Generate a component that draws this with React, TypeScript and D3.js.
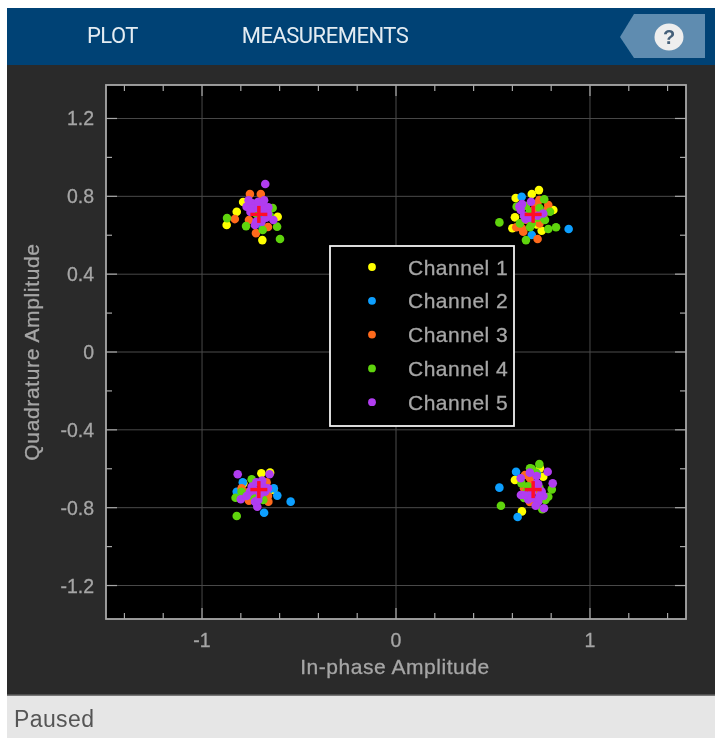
import React from "react";
import * as d3 from "d3";

type P = [number, number];

const channel1: P[] = [
  [-0.788, 0.771], [-0.821, 0.721], [-0.873, 0.653], [-0.61, 0.695], [-0.689, 0.575], [-0.7, 0.7],
  [0.737, 0.832], [0.7, 0.812], [0.617, 0.791], [0.811, 0.73], [0.613, 0.692], [0.6, 0.636], [0.751, 0.623], [0.725, 0.656],
  [-0.694, -0.623], [-0.649, -0.62], [-0.632, -0.709], [-0.787, -0.675],
  [0.649, -0.819], [0.613, -0.658], [0.759, -0.641], [0.742, -0.598],
];
const channel2: P[] = [
  [-0.687, 0.64], [-0.74, 0.74], [-0.7, 0.68],
  [0.648, 0.798], [0.89, 0.632], [0.7, 0.601],
  [-0.79, -0.67], [-0.612, -0.738], [-0.543, -0.769], [-0.68, -0.826], [-0.821, -0.718], [-0.658, -0.71], [-0.8, -0.74], [-0.63, -0.7], [-0.73, -0.67],
  [0.619, -0.615], [0.533, -0.697], [0.627, -0.848], [0.725, -0.624],
];
const channel3: P[] = [
  [-0.753, 0.812], [-0.697, 0.812], [-0.831, 0.683], [-0.722, 0.611], [-0.66, 0.642], [-0.758, 0.678],
  [0.73, 0.581], [0.656, 0.618], [0.62, 0.641], [0.785, 0.755], [0.739, 0.781], [0.65, 0.635], [0.76, 0.704], [0.78, 0.73], [0.72, 0.76], [0.67, 0.68], [0.74, 0.66], [0.71, 0.73],
  [-0.667, -0.67], [-0.758, -0.764], [-0.658, -0.769], [-0.796, -0.7], [-0.66, -0.74], [-0.76, -0.72], [-0.72, -0.75],
  [0.691, -0.649], [0.69, -0.77], [0.665, -0.632], [0.7, -0.68], [0.66, -0.7], [0.72, -0.71],
];
const channel4: P[] = [
  [-0.871, 0.688], [-0.636, 0.74], [-0.773, 0.647], [-0.613, 0.644], [-0.598, 0.581], [-0.687, 0.627], [-0.65, 0.7], [-0.72, 0.71],
  [0.533, 0.666], [0.764, 0.785], [0.825, 0.641], [0.785, 0.632], [0.67, 0.575], [0.691, 0.641], [0.639, 0.661], [0.794, 0.721], [0.768, 0.678], [0.622, 0.747], [0.66, 0.7], [0.74, 0.74], [0.7, 0.66], [0.69, 0.72], [0.73, 0.69], [0.67, 0.75],
  [-0.821, -0.843], [-0.744, -0.654], [-0.827, -0.749], [-0.796, -0.718], [-0.684, -0.76], [-0.74, -0.74],
  [0.541, -0.79], [0.739, -0.576], [0.691, -0.598], [0.803, -0.706], [0.785, -0.744], [0.754, -0.808], [0.647, -0.675], [0.674, -0.717], [0.7, -0.6], [0.72, -0.62], [0.77, -0.76], [0.66, -0.75], [0.74, -0.7], [0.68, -0.69],
];
const channel5: P[] = [
  [-0.674, 0.863], [-0.77, 0.747], [-0.74, 0.764], [-0.71, 0.772], [-0.684, 0.755], [-0.658, 0.743], [-0.632, 0.678], [-0.727, 0.653], [-0.693, 0.67], [-0.735, 0.738], [-0.684, 0.73], [-0.75, 0.72], [-0.66, 0.71], [-0.72, 0.67], [-0.68, 0.78], [-0.76, 0.78], [-0.71, 0.74], [-0.67, 0.69],
  [0.636, 0.747], [0.696, 0.772], [0.759, 0.712], [0.668, 0.683], [0.643, 0.73], [0.65, 0.76], [0.66, 0.7], [0.73, 0.7], [0.69, 0.69],
  [-0.816, -0.628], [-0.652, -0.628], [-0.8, -0.757], [-0.715, -0.795], [-0.727, -0.769], [-0.744, -0.692], [-0.684, -0.692], [-0.753, -0.718], [-0.675, -0.718], [-0.71, -0.76], [-0.72, -0.67], [-0.66, -0.7], [-0.77, -0.74], [-0.7, -0.73], [-0.73, -0.71], [-0.69, -0.66],
  [0.782, -0.615], [0.808, -0.675], [0.643, -0.649], [0.725, -0.637], [0.644, -0.735], [0.763, -0.803], [0.733, -0.769], [0.682, -0.758], [0.751, -0.717], [0.725, -0.675], [0.664, -0.735], [0.733, -0.68], [0.7, -0.72], [0.76, -0.74], [0.72, -0.79], [0.69, -0.62], [0.7, -0.75], [0.74, -0.74],
];
const channelNames = ["Channel 1", "Channel 2", "Channel 3", "Channel 4", "Channel 5"];
const channelColors = ["#ffff00", "#0a9fff", "#ff6a1a", "#5fd40a", "#b13cf0"];
const referencePoints: P[] = [[-0.707, 0.707], [0.707, 0.707], [-0.707, -0.707], [0.707, -0.707]];
const xMajor = [-1, 0, 1];
const yMajor = [-1.2, -0.8, -0.4, 0, 0.4, 0.8, 1.2];
const xMinor = [-1.4, -1.2, -0.8, -0.6, -0.4, -0.2, 0.2, 0.4, 0.6, 0.8, 1.2, 1.4];
const yMinor = [-1, -0.6, -0.2, 0.2, 0.6, 1];

const L = 106, R = 686, T = 85, B = 619;
const FONT = "Liberation Sans, Arial, sans-serif";

export default function App() {
  const x = d3.scaleLinear().domain([-1.495, 1.495]).range([L, R]);
  const y = d3.scaleLinear().domain([-1.372, 1.372]).range([B, T]);
  const series = [channel1, channel2, channel3, channel4, channel5];
  const axisColor = "#a8a8a8";
  const textColor = "#a6a6a6";
  const fmtY = (v: number) => (v === 0 ? "0" : v.toFixed(1));
  const bold = { stroke: textColor, strokeWidth: 0.3 };
  return (
    <svg width={715} height={738} style={{ position: "fixed", left: 0, top: 0, display: "block" }}>
      <defs>
        <filter id="soft" x="0" y="0" width="100%" height="100%">
          <feGaussianBlur stdDeviation={0.45} />
        </filter>
      </defs>
      <rect width={715} height={738} fill="#ffffff" />
      <g filter="url(#soft)">
        <rect x={7} y={8} width={708} height={57} fill="#004375" />
        <rect x={7} y={65} width={708} height={631} fill="#292929" />
        <rect x={7} y={696} width={708} height={42} fill="#e6e6e6" />
        <rect x={7} y={694.5} width={708} height={1.5} fill="#777777" />
        <text x={112.5} y={43} textAnchor="middle" fontFamily="Roboto, sans-serif" fontSize={22} fill="#e4ecf2" style={{ letterSpacing: "-0.5px" }}>PLOT</text>
        <text x={325} y={43} textAnchor="middle" fontFamily="Roboto, sans-serif" fontSize={22} fill="#e4ecf2" style={{ letterSpacing: "-0.5px" }}>MEASUREMENTS</text>
        <polygon points="634,14 705,14 705,58 634,58 620,37" fill="#5f8cb0" />
        <ellipse cx={669} cy={37} rx={14.5} ry={13.5} fill="#eeeeee" />
        <text x={669} y={44} textAnchor="middle" fontFamily={FONT} fontWeight={700} fontSize={20} fill="#44607a">?</text>
        <text x={14} y={727} fontFamily={FONT} fontSize={23} fill="#555555" style={{ letterSpacing: "0.4px" }}>Paused</text>

        <rect x={L} y={T} width={R - L} height={B - T} fill="#000000" />
        {xMajor.map((v) => (
          <line key={"gx" + v} x1={x(v)} x2={x(v)} y1={T} y2={B} stroke="#4a4a4a" strokeWidth={1} />
        ))}
        {yMajor.map((v) => (
          <line key={"gy" + v} x1={L} x2={R} y1={y(v)} y2={y(v)} stroke="#4a4a4a" strokeWidth={1} />
        ))}
        {xMajor.map((v) => (
          <g key={"tx" + v} stroke={axisColor} strokeWidth={1.2}>
            <line x1={x(v)} x2={x(v)} y1={T} y2={T + 11} />
            <line x1={x(v)} x2={x(v)} y1={B} y2={B - 11} />
          </g>
        ))}
        {xMinor.map((v) => (
          <g key={"mx" + v} stroke={axisColor} strokeWidth={1.2}>
            <line x1={x(v)} x2={x(v)} y1={T} y2={T + 6} />
            <line x1={x(v)} x2={x(v)} y1={B} y2={B - 6} />
          </g>
        ))}
        {yMajor.map((v) => (
          <g key={"ty" + v} stroke={axisColor} strokeWidth={1.2}>
            <line x1={L} x2={L + 11} y1={y(v)} y2={y(v)} />
            <line x1={R} x2={R - 11} y1={y(v)} y2={y(v)} />
          </g>
        ))}
        {yMinor.map((v) => (
          <g key={"my" + v} stroke={axisColor} strokeWidth={1.2}>
            <line x1={L} x2={L + 6} y1={y(v)} y2={y(v)} />
            <line x1={R} x2={R - 6} y1={y(v)} y2={y(v)} />
          </g>
        ))}
        {series.map((pts, i) => (
          <g key={channelNames[i]} fill={channelColors[i]}>
            {pts.map((p, j) => (
              <circle key={j} cx={x(p[0])} cy={y(p[1])} r={4.3} />
            ))}
          </g>
        ))}
        {referencePoints.map((p, i) => (
          <g key={i} stroke="#ff0a28" strokeWidth={3.4}>
            <line x1={x(p[0]) - 8.5} x2={x(p[0]) + 8.5} y1={y(p[1])} y2={y(p[1])} />
            <line x1={x(p[0])} x2={x(p[0])} y1={y(p[1]) - 8.5} y2={y(p[1]) + 8.5} />
          </g>
        ))}
        <rect x={L} y={T} width={R - L} height={B - T} fill="none" stroke={axisColor} strokeWidth={1.8} />

        <rect x={330} y={246} width={184} height={180} fill="#000000" stroke="#f2f2f2" strokeWidth={1.8} />
        {channelNames.map((n, i) => (
          <g key={n}>
            <circle cx={372} cy={267 + i * 33.8} r={3.9} fill={channelColors[i]} />
            <text x={408} y={274.5 + i * 33.8} fontFamily={FONT} fontSize={21} fill={textColor} {...bold} style={{ letterSpacing: "0.5px" }}>{n}</text>
          </g>
        ))}

        {xMajor.map((v) => (
          <text key={"lx" + v} x={x(v)} y={647} textAnchor="middle" fontFamily={FONT} fontSize={19.5} fill={textColor} {...bold}>{v < 0 ? "-" + Math.abs(v) : v}</text>
        ))}
        {yMajor.map((v) => (
          <text key={"ly" + v} x={94} y={y(v) + 7} textAnchor="end" fontFamily={FONT} fontSize={19.5} fill={textColor} {...bold}>{fmtY(v)}</text>
        ))}
        <text x={395} y={674} textAnchor="middle" fontFamily={FONT} fontSize={21} fill={textColor} {...bold} style={{ letterSpacing: "0.54px" }}>In-phase Amplitude</text>
        <text transform="translate(39,352) rotate(-90)" textAnchor="middle" fontFamily={FONT} fontSize={21} fill={textColor} {...bold} style={{ letterSpacing: "0.65px" }}>Quadrature Amplitude</text>
      </g>
    </svg>
  );
}
